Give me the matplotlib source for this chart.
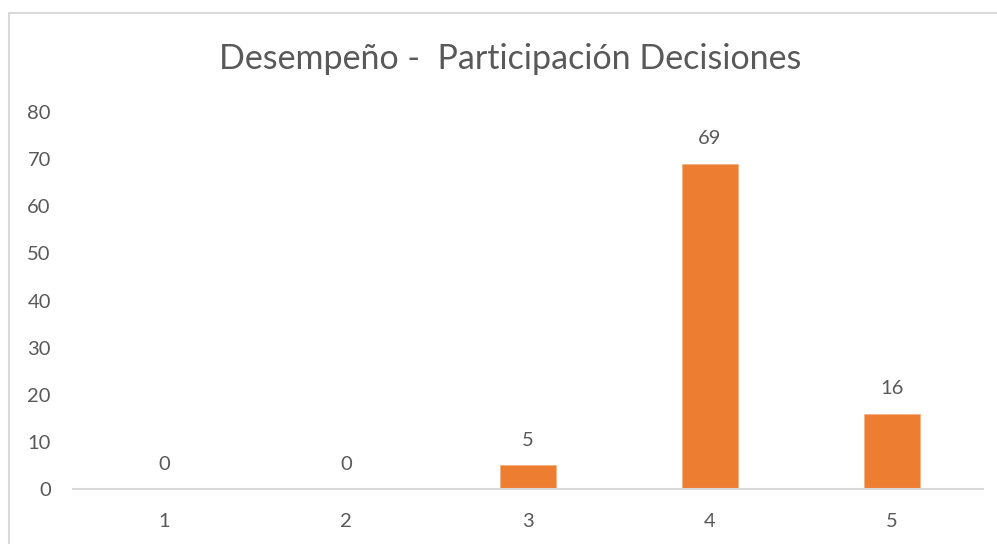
import matplotlib
matplotlib.use("Agg")
import matplotlib.pyplot as plt
from matplotlib.patches import Rectangle

categorias = ["1", "2", "3", "4", "5"]
valores = [0, 0, 5, 69, 16]
titulo = "Desempeño -  Participación Decisiones"

NARANJA = "#ED7D31"
GRIS_TXT = "#595959"
GRIS_LIN = "#D9D9D9"

plt.rcParams["font.family"] = ["Lato", "DejaVu Sans"]

W, H = 997, 544
fig = plt.figure(figsize=(W / 100, H / 100), dpi=100)
ax = fig.add_axes([73 / W, 55 / H, (983 - 73) / W, (489 - 112) / H])

x = list(range(len(categorias)))
bars = ax.bar(x, valores, width=0.31, color=NARANJA, edgecolor="#F4B183", linewidth=0.6, zorder=2)
for b, v in zip(bars, valores):
    ax.annotate(str(v), (b.get_x() + b.get_width() / 2, v), xytext=(0, 18),
                textcoords="offset points", ha="center", va="center",
                fontsize=14.5, color=GRIS_TXT)

ax.set_xlim(-0.5, len(categorias) - 0.5)
ax.set_ylim(0, 80)
ax.set_yticks(range(0, 81, 10))
ax.set_xticks(x)
ax.set_xticklabels(categorias)
for s in ("top", "right", "left"):
    ax.spines[s].set_visible(False)
ax.spines["bottom"].set_color(GRIS_LIN)
ax.spines["bottom"].set_linewidth(1.5)
ax.tick_params(axis="both", length=0, labelsize=14.5, labelcolor=GRIS_TXT)
ax.tick_params(axis="y", pad=16)
ax.tick_params(axis="x", pad=17)

fig.text(0.5 * (218 + 803) / W, 1 - 59 / H, titulo, ha="center", va="center",
         fontsize=24.5, color=GRIS_TXT)

# marco del gráfico (recortado a la derecha y abajo como en la captura)
fig.patches.append(Rectangle((9 / W, -0.1), 1.1, 1.1 - 13 / H, transform=fig.transFigure,
                             fill=False, edgecolor=GRIS_LIN, linewidth=1.5))

fig.savefig("out.png", dpi=100)
